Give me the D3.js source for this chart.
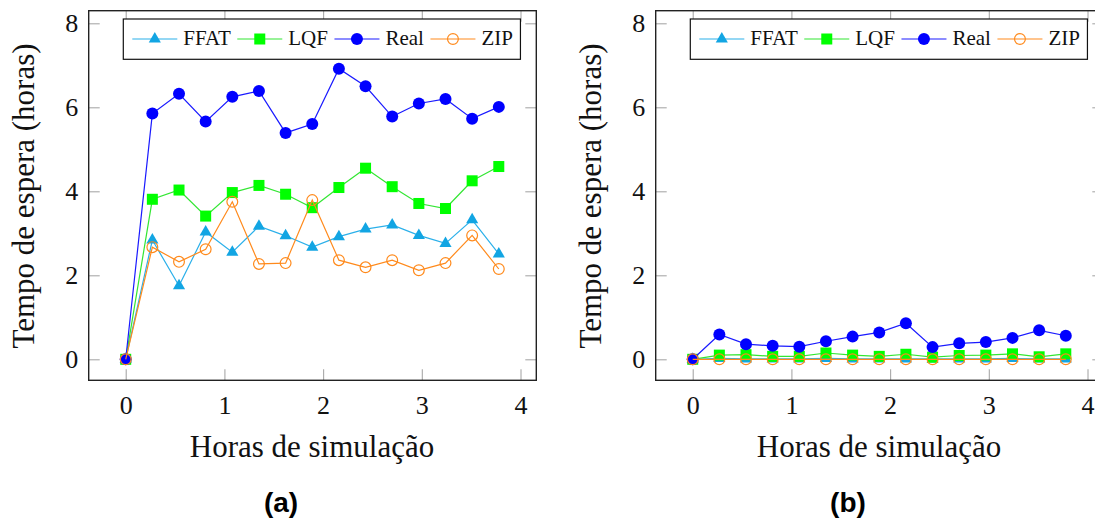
<!DOCTYPE html>
<html>
<head>
<meta charset="utf-8">
<script src="https://d3js.org/d3.v7.min.js"></script>
<style>
  html, body { margin: 0; padding: 0; background: #fff; }
  svg { display: block; }
</style>
</head>
<body>
<svg id="chart" width="1095" height="525"></svg>
<script>
'use strict';

// simulation hours (x) shared by both panels
var hours = [0, 0.27, 0.54, 0.81, 1.08, 1.35, 1.62, 1.89, 2.16, 2.43, 2.70, 2.97, 3.24, 3.51, 3.78];

var seriesNames = ['FFAT', 'LQF', 'Real', 'ZIP'];

// panel (a)
var ffatA = [0, 2.84, 1.75, 3.03, 2.55, 3.17, 2.94, 2.67, 2.92, 3.10, 3.20, 2.95, 2.76, 3.32, 2.51];
var lqfA  = [0, 3.81, 4.03, 3.41, 3.97, 4.14, 3.93, 3.61, 4.09, 4.55, 4.11, 3.71, 3.59, 4.25, 4.59];
var realA = [0, 5.85, 6.32, 5.66, 6.25, 6.39, 5.39, 5.60, 6.92, 6.50, 5.78, 6.09, 6.20, 5.73, 6.01];
var zipA  = [0, 2.67, 2.32, 2.62, 3.75, 2.27, 2.29, 3.79, 2.36, 2.19, 2.36, 2.12, 2.29, 2.95, 2.15];

// panel (b)
var ffatB = [0, 0.02, 0.01, 0.01, 0.01, 0.02, 0.01, 0.01, 0.01, 0.01, 0.01, 0.01, 0.02, 0.01, 0.01];
var lqfB  = [0, 0.10, 0.11, 0.07, 0.07, 0.15, 0.10, 0.07, 0.12, 0.05, 0.09, 0.10, 0.13, 0.06, 0.13];
var realB = [0, 0.59, 0.36, 0.32, 0.30, 0.43, 0.54, 0.64, 0.86, 0.29, 0.38, 0.41, 0.51, 0.69, 0.56];
var zipB  = [0, 0, 0, 0, 0, 0, 0, 0, 0, 0, 0, 0, 0, 0, 0];

var xTicks = [0, 1, 2, 3, 4];
var yTicks = [0, 2, 4, 6, 8];
var xLimits = [-0.375, 4.16];
var yLimits = [-0.5, 8.3];

var xTitle = 'Horas de simulação';
var yTitle = 'Tempo de espera (horas)';
var captions = ['(a)', '(b)'];

var styles = {
  'FFAT': {color: '#12a5e3', line: '#2bb0ea', mark: 'triangle'},
  'LQF':  {color: '#00ff00', line: '#33e633', mark: 'square'},
  'Real': {color: '#0000ff', line: '#1a1aff', mark: 'circle'},
  'ZIP':  {color: '#ff8a1c', line: '#ff8a1c', mark: 'ring'}
};

var serif = "'Liberation Serif', 'DejaVu Serif', serif";
var svg = d3.select('#chart');

var frame = {left: 88.7, top: 10.7, width: 447.6, height: 369.6};
var panelShift = 567;

function drawMark(g, kind, st) {
  if (kind === 'triangle') {
    var r = 7;
    g.append('path')
      .attr('d', 'M0,' + (-r) + 'L' + (r * 0.866) + ',' + (r / 2) + 'L' + (-r * 0.866) + ',' + (r / 2) + 'Z')
      .attr('fill', st.color);
  } else if (kind === 'square') {
    g.append('rect').attr('x', -5.5).attr('y', -5.5).attr('width', 11).attr('height', 11)
      .attr('fill', st.color);
  } else if (kind === 'circle') {
    g.append('circle').attr('r', 6).attr('fill', st.color);
  } else {
    g.append('circle').attr('r', 5.4).attr('fill', 'none')
      .attr('stroke', st.color).attr('stroke-width', 1.2);
  }
}

function drawPanel(offsetX, data, caption) {
  var g = svg.append('g').attr('transform', 'translate(' + offsetX + ',0)');

  var x = d3.scaleLinear().domain(xLimits).range([frame.left, frame.left + frame.width]);
  var y = d3.scaleLinear().domain(yLimits).range([frame.top + frame.height, frame.top]);

  // inward ticks on all four sides
  var bottom = g.append('g')
    .attr('transform', 'translate(0,' + (frame.top + frame.height) + ')')
    .call(d3.axisBottom(x).tickValues(xTicks).tickFormat(d3.format('d')).tickSize(-11).tickPadding(15));
  var top = g.append('g')
    .attr('transform', 'translate(0,' + frame.top + ')')
    .call(d3.axisTop(x).tickValues(xTicks).tickFormat('').tickSize(-11));
  var left = g.append('g')
    .attr('transform', 'translate(' + frame.left + ',0)')
    .call(d3.axisLeft(y).tickValues(yTicks).tickFormat(d3.format('d')).tickSize(-11).tickPadding(10.5));
  var right = g.append('g')
    .attr('transform', 'translate(' + (frame.left + frame.width) + ',0)')
    .call(d3.axisRight(y).tickValues(yTicks).tickFormat('').tickSize(-11));

  [bottom, top, left, right].forEach(function (a) {
    a.attr('font-family', null).attr('font-size', null);
    a.select('.domain').remove();
    a.selectAll('.tick line').attr('stroke', '#a8a8a8').attr('stroke-width', 1.1);
    a.selectAll('.tick text')
      .style('font-family', serif).style('font-size', '26px')
      .attr('fill', '#111');
  });

  g.append('rect')
    .attr('x', frame.left).attr('y', frame.top)
    .attr('width', frame.width).attr('height', frame.height)
    .attr('fill', 'none').attr('stroke', '#222').attr('stroke-width', 1.4);

  var line = d3.line()
    .x(function (d, i) { return x(hours[i]); })
    .y(function (d) { return y(d); });

  data.forEach(function (values, si) {
    var name = seriesNames[si];
    var st = styles[name];
    var sg = g.append('g').attr('class', 'series');
    sg.append('path')
      .attr('d', line(values))
      .attr('fill', 'none')
      .attr('stroke', st.line)
      .attr('stroke-width', 1.2);
    values.forEach(function (v, i) {
      var mg = sg.append('g').attr('transform', 'translate(' + x(hours[i]) + ',' + y(v) + ')');
      drawMark(mg, st.mark, st);
    });
  });

  // legend
  var lg = g.append('g').attr('transform', 'translate(' + (frame.left + 34.6) + ',19)');
  var box = lg.append('rect')
    .attr('x', 0).attr('y', 0).attr('height', 40.3)
    .attr('fill', '#fff').attr('stroke', '#111').attr('stroke-width', 1.2);
  var cx = 9;
  seriesNames.forEach(function (name) {
    var st = styles[name];
    lg.append('line')
      .attr('x1', cx).attr('x2', cx + 45).attr('y1', 20).attr('y2', 20)
      .attr('stroke', st.line).attr('stroke-width', 1.2);
    drawMark(lg.append('g').attr('transform', 'translate(' + (cx + 22.5) + ',20)'), st.mark, st);
    var t = lg.append('text')
      .attr('x', cx + 51).attr('y', 26)
      .style('font-family', serif).style('font-size', '21px').attr('fill', '#111')
      .text(name);
    cx += 51 + t.node().getComputedTextLength() + 6.5;
  });
  box.attr('width', cx + 1);

  // axis titles
  g.append('text')
    .attr('x', frame.left + frame.width / 2 - 0.5).attr('y', 457)
    .attr('text-anchor', 'middle')
    .style('font-family', serif).style('font-size', '31px').attr('fill', '#111')
    .text(xTitle);
  g.append('text')
    .attr('transform', 'translate(33.5,196) rotate(-90)')
    .attr('text-anchor', 'middle')
    .style('font-family', serif).style('font-size', '31px').attr('fill', '#111')
    .text(yTitle);

  g.append('text')
    .attr('x', 281).attr('y', 512)
    .attr('text-anchor', 'middle')
    .style('font-family', "'Liberation Sans', Arial, sans-serif")
    .style('font-weight', 'bold').style('font-size', '28px').attr('fill', '#000')
    .text(caption);
}

drawPanel(0, [ffatA, lqfA, realA, zipA], captions[0]);
drawPanel(panelShift, [ffatB, lqfB, realB, zipB], captions[1]);
</script>
</body>
</html>
